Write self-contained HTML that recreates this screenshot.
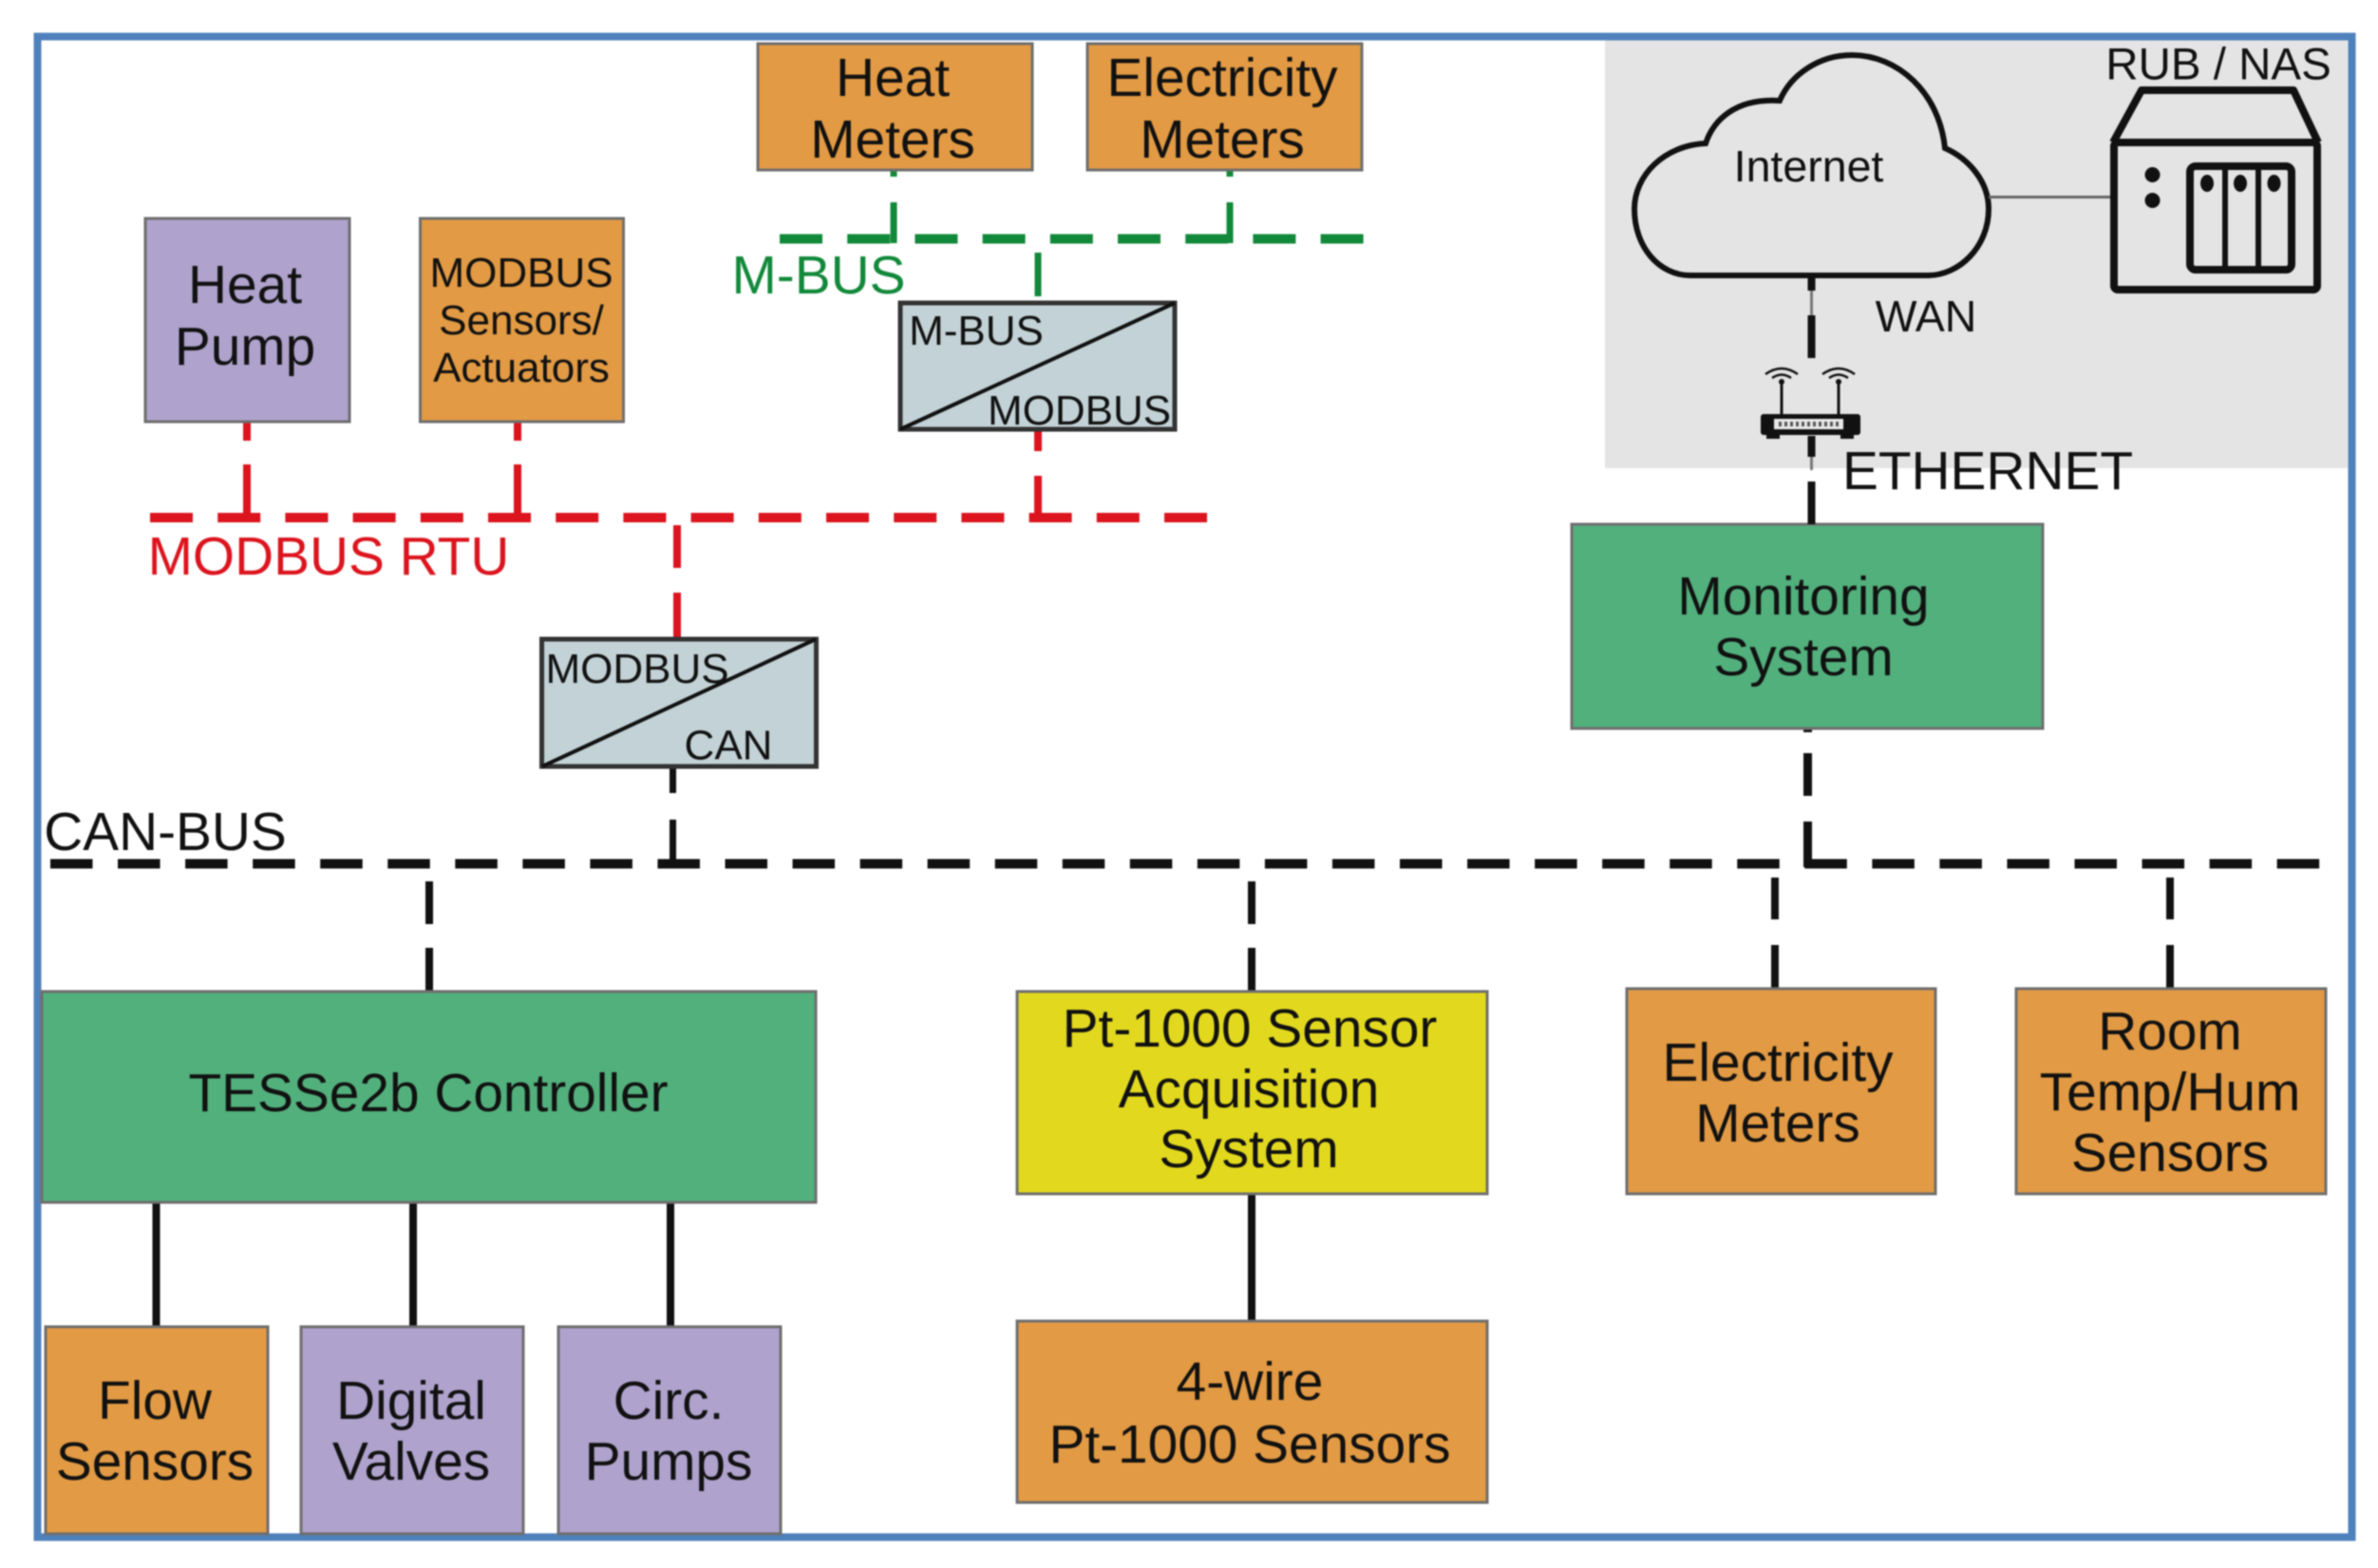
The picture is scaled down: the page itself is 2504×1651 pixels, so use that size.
<!DOCTYPE html>
<html><head><meta charset="utf-8"><style>
html,body{margin:0;padding:0;background:#fff}
svg{display:block;filter:blur(.9px)}
text{font-family:"Liberation Sans",sans-serif;fill:#111;text-anchor:middle}
.b{stroke:#6e6e6e;stroke-width:3}
.s{fill:none;stroke-linecap:butt}
</style></head><body>
<svg xmlns="http://www.w3.org/2000/svg" width="2504" height="1651" viewBox="0 0 2504 1651">
<rect width="2504" height="1651" fill="#fff"/>
<rect x="1690" y="42" width="782" height="451" fill="#e4e4e4"/>
<rect x="39.500" y="38.500" width="2437" height="1580" fill="none" stroke="#4f81bd" stroke-width="8"/>

<!-- buses -->
<g class="s" stroke="#12893a" stroke-width="10">
<line x1="821" y1="251.500" x2="1436" y2="251.500" stroke-dasharray="45 26.200"/>
<path d="M941 179V186M941 213V256M1295 179V186M1295 213V256M1093 266V312" stroke-width="7"/>
</g>
<g class="s" stroke="#dc141e" stroke-width="10">
<line x1="158" y1="545" x2="1272" y2="545" stroke-dasharray="45 26.200"/>
<path d="M260 445V464M260 489V540M545 445V464M545 489V540M1093 453V475M1093 501V549M713 553V598M713 624V671" stroke-width="8"/>
</g>
<g class="s" stroke="#111" stroke-width="10">
<line x1="53" y1="909.500" x2="2444" y2="909.500" stroke-dasharray="44.500 26.550"/>
<path d="M708.500 807V835M708.500 863V912" stroke-width="7"/>
<path d="M452 928V973M452 998V1043M1318 928V973M1318 998V1043M1869 924V968M1869 995V1040M2285 924V968M2285 995V1040" stroke-width="8"/>
<path d="M1903.500 767V771M1903.500 793V838M1903.500 865V913" stroke-width="9"/>
<path d="M164.500 1266V1396M435 1266V1396M706 1266V1396M1318 1258V1390" stroke-width="8"/>
</g>

<!-- boxes -->
<g class="b">
<rect x="798" y="46" width="289" height="133" fill="#e29a44"/>
<rect x="1145" y="46" width="289" height="133" fill="#e29a44"/>
<rect x="153" y="230" width="215" height="214" fill="#afa2cc"/>
<rect x="442.500" y="230" width="214" height="214" fill="#e29a44"/>
<rect x="1655" y="552" width="496" height="215" fill="#52b07c"/>
<rect x="44" y="1044" width="815" height="222" fill="#52b07c"/>
<rect x="1071" y="1044" width="495" height="213" fill="#e2d91e"/>
<rect x="1713" y="1041" width="325" height="216" fill="#e29a44"/>
<rect x="2123" y="1041" width="326" height="216" fill="#e29a44"/>
<rect x="48" y="1397" width="234" height="218" fill="#e29a44"/>
<rect x="317" y="1397" width="234" height="218" fill="#afa2cc"/>
<rect x="588" y="1397" width="234" height="218" fill="#afa2cc"/>
<rect x="1071" y="1391" width="495" height="191" fill="#e29a44"/>
</g>

<!-- converters -->
<g stroke="#333" stroke-width="5" fill="#c3d2d6">
<rect x="948" y="319" width="289" height="133"/>
<rect x="570.500" y="673" width="289" height="134"/>
</g>
<g stroke="#111" stroke-width="4">
<line x1="948" y1="452" x2="1237" y2="319"/>
<line x1="571" y1="807" x2="859" y2="673"/>
</g>

<!-- grey panel items -->
<path d="M1780 290C1747 290 1721 260 1721 220C1721 185 1752 153 1796 151C1804 127 1827 103 1874 106C1886 78 1916 58 1950 58C1998 58 2042 97 2048 156C2073 167 2094 191 2094 220C2094 260 2063 290 2030 290Z" fill="#e4e4e4" stroke="#111" stroke-width="6"/>
<line x1="2094" y1="207.500" x2="2223" y2="207.500" stroke="#666" stroke-width="3"/>
<g fill="none" stroke="#111">
<rect x="2226" y="150" width="214" height="155" rx="4" stroke-width="8"/>
<path d="M2225 150L2255 95H2415L2441 150" stroke-width="8" stroke-linejoin="round"/>
<rect x="2306" y="175" width="107" height="109" rx="6" stroke-width="8"/>
<path d="M2343 175V283M2378 175V283" stroke-width="6"/>
</g>
<g fill="#111">
<ellipse cx="2266.500" cy="184" rx="8" ry="8"/><ellipse cx="2266.500" cy="211" rx="8" ry="8"/>
<ellipse cx="2324" cy="193" rx="7" ry="9"/><ellipse cx="2359" cy="193" rx="7" ry="9"/><ellipse cx="2394.500" cy="193" rx="7" ry="9"/>
</g>

<!-- WAN/Ethernet line -->
<g class="s" stroke="#111">
<path d="M1907.500 291V306M1907.500 332V377M1907.500 459V481M1907.500 507V552" stroke-width="8"/>
<path d="M1907.500 306V332M1907.500 481V495" stroke="#777" stroke-width="3"/>
</g>

<!-- router -->
<g>
<rect x="1854" y="436" width="105" height="22" rx="3" fill="#111"/>
<rect x="1860" y="456" width="14" height="6" fill="#111"/><rect x="1938" y="456" width="14" height="6" fill="#111"/>
<rect x="1868" y="441" width="73" height="11" fill="#e8e8e8"/>
<line x1="1873" y1="446.500" x2="1937" y2="446.500" stroke="#555" stroke-width="5" stroke-dasharray="3 3"/>
<path d="M1876 436V402M1936 436V402" stroke="#111" stroke-width="3"/>
<g fill="none" stroke="#111" stroke-width="2.500">
<path d="M1859 394Q1876 382 1893 394M1866 398Q1876 391 1886 398"/>
<path d="M1919 394Q1936 382 1953 394M1926 398Q1936 391 1946 398"/>
</g>
<circle cx="1876" cy="402" r="3" fill="#111"/><circle cx="1936" cy="402" r="3" fill="#111"/>
</g>

<!-- labels -->
<g font-size="56.800">
<text x="940" y="101">Heat</text><text x="940" y="166">Meters</text>
<text x="1287" y="101">Electricity</text><text x="1287" y="166">Meters</text>
<text x="258" y="319">Heat</text><text x="258" y="384">Pump</text>
<text x="1899" y="647">Monitoring</text><text x="1899" y="711">System</text>
<text x="451" y="1170">TESSe2b Controller</text>
<text x="1316" y="1102">Pt-1000 Sensor</text><text x="1315" y="1166">Acquisition</text><text x="1315" y="1229">System</text>
<text x="1872" y="1138">Electricity</text><text x="1872" y="1202">Meters</text>
<text x="2285" y="1105">Room</text><text x="2285" y="1169">Temp/Hum</text><text x="2285" y="1233">Sensors</text>
<text x="163" y="1494">Flow</text><text x="163" y="1558">Sensors</text>
<text x="433" y="1494">Digital</text><text x="433" y="1558">Valves</text>
<text x="704" y="1494">Circ.</text><text x="704" y="1558">Pumps</text>
<text x="1316" y="1474">4-wire</text><text x="1316" y="1540">Pt-1000 Sensors</text>
<text x="174" y="895">CAN-BUS</text>
<text x="2093" y="515">ETHERNET</text>
<text x="346" y="605" style="fill:#dc141e">MODBUS RTU</text>
<text x="862" y="309" style="fill:#12893a">M-BUS</text>
</g>
<g font-size="44">
<text x="549" y="302">MODBUS</text><text x="549" y="352">Sensors/</text><text x="549" y="402">Actuators</text>
<text x="1028" y="363">M-BUS</text><text x="1136.500" y="447">MODBUS</text>
<text x="671" y="719">MODBUS</text><text x="767" y="799.500">CAN</text>
</g>
<g font-size="46.500">
<text x="1904.500" y="191">Internet</text>
<text x="2336" y="83.500" font-size="47.500">RUB / NAS</text>
<text x="2028" y="349">WAN</text>
</g>
</svg>
</body></html>
